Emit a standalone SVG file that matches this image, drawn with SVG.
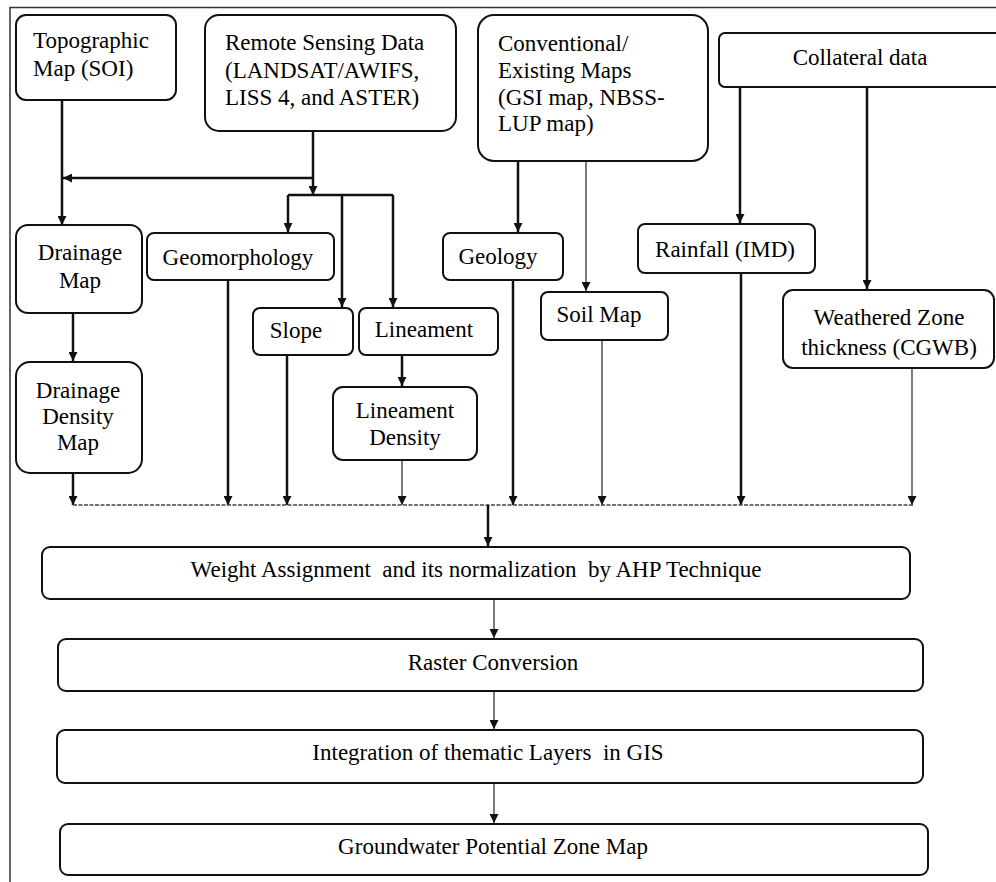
<svg xmlns="http://www.w3.org/2000/svg" width="996" height="882" viewBox="0 0 996 882">
<style>
  .box{fill:#fff;stroke:#111;stroke-width:2}
  .t{font-family:"Liberation Serif","Times New Roman",serif;font-size:23px;fill:#000;white-space:pre}
  .c{text-anchor:middle}
  .thick{fill:none;stroke:#111;stroke-width:2.5}
  .thin{fill:none;stroke:#222;stroke-width:1.2}
  .bus{fill:none;stroke:#444;stroke-width:1.5;stroke-dasharray:4 1.5}
  .frame{fill:none;stroke:#333;stroke-width:1.5}
</style>
<defs>
  <marker id="ah" viewBox="0 0 10 10" refX="10" refY="5" markerWidth="10" markerHeight="9" markerUnits="userSpaceOnUse" orient="auto">
    <path d="M0,0 L10,5 L0,10 z" fill="#111"/>
  </marker>
</defs>
<rect width="996" height="882" fill="#fff"/>
<path class="frame" d="M10,882 V7.5 H996"/>

<g id="connectors">
  <path class="thick" d="M62,100 V225" marker-end="url(#ah)"/>
  <path class="thick" d="M313,131 V195" marker-end="url(#ah)"/>
  <path class="thick" d="M313,178 H63" marker-end="url(#ah)"/>
  <path class="thick" d="M288,195 H393"/>
  <path class="thick" d="M288,195 V232" marker-end="url(#ah)"/>
  <path class="thick" d="M342,195 V307" marker-end="url(#ah)"/>
  <path class="thick" d="M393,195 V307" marker-end="url(#ah)"/>
  <path class="thick" d="M73,313 V361" marker-end="url(#ah)"/>
  <path class="thick" d="M402,355 V386" marker-end="url(#ah)"/>
  <path class="thick" d="M518,161 V232" marker-end="url(#ah)"/>
  <path class="thin" d="M586,161 V291" marker-end="url(#ah)"/>
  <path class="thick" d="M740,87 V223" marker-end="url(#ah)"/>
  <path class="thick" d="M867,87 V289" marker-end="url(#ah)"/>

  <path class="thick" d="M73,473 V505" marker-end="url(#ah)"/>
  <path class="thick" d="M228,280 V505" marker-end="url(#ah)"/>
  <path class="thick" d="M287,355 V505" marker-end="url(#ah)"/>
  <path class="thin" d="M402,460 V505" marker-end="url(#ah)"/>
  <path class="thick" d="M513,280 V505" marker-end="url(#ah)"/>
  <path class="thin" d="M602,340 V505" marker-end="url(#ah)"/>
  <path class="thick" d="M741,273 V505" marker-end="url(#ah)"/>
  <path class="thin" d="M912,368 V505" marker-end="url(#ah)"/>
  <path class="bus" d="M73,505 H913"/>
  <path class="thick" d="M488,505 V546" marker-end="url(#ah)"/>
  <path class="thin" d="M494,599 V638" marker-end="url(#ah)"/>
  <path class="thin" d="M494,691 V729" marker-end="url(#ah)"/>
  <path class="thin" d="M494,783 V823" marker-end="url(#ah)"/>
</g>

<g id="topographic">
  <rect class="box" x="16" y="15" width="160" height="85" rx="10"/>
  <text class="t" x="33" y="48">Topographic</text>
  <text class="t" x="33" y="76">Map (SOI)</text>
</g>
<g id="remote-sensing">
  <rect class="box" x="205" y="15" width="251" height="116" rx="14"/>
  <text class="t" x="225" y="50">Remote Sensing Data</text>
  <text class="t" x="225" y="78">(LANDSAT/AWIFS,</text>
  <text class="t" x="225" y="105">LISS 4, and ASTER)</text>
</g>
<g id="conventional">
  <rect class="box" x="478" y="15" width="230" height="146" rx="16"/>
  <text class="t" x="498" y="51">Conventional/</text>
  <text class="t" x="498" y="78">Existing Maps</text>
  <text class="t" x="498" y="105">(GSI map, NBSS-</text>
  <text class="t" x="498" y="131">LUP map)</text>
</g>
<g id="collateral">
  <rect class="box" x="719" y="33" width="290" height="54" rx="6"/>
  <text class="t c" x="860" y="65">Collateral data</text>
</g>
<g id="drainage-map">
  <rect class="box" x="16" y="225" width="126" height="88" rx="12"/>
  <text class="t c" x="80" y="260">Drainage</text>
  <text class="t c" x="80" y="288">Map</text>
</g>
<g id="geomorphology">
  <rect class="box" x="147" y="233" width="187" height="47" rx="7"/>
  <text class="t c" x="238" y="265">Geomorphology</text>
</g>
<g id="geology">
  <rect class="box" x="443" y="233" width="120" height="47" rx="7"/>
  <text class="t c" x="498" y="264">Geology</text>
</g>
<g id="rainfall">
  <rect class="box" x="638" y="224" width="177" height="49" rx="7"/>
  <text class="t c" x="725" y="257">Rainfall (IMD)</text>
</g>
<g id="soil-map">
  <rect class="box" x="541" y="292" width="127" height="48" rx="7"/>
  <text class="t c" x="599" y="322">Soil Map</text>
</g>
<g id="weathered-zone">
  <rect class="box" x="783" y="290" width="211" height="78" rx="10"/>
  <text class="t c" x="889" y="325">Weathered Zone</text>
  <text class="t c" x="889" y="355">thickness (CGWB)</text>
</g>
<g id="slope">
  <rect class="box" x="253" y="308" width="100" height="47" rx="7"/>
  <text class="t c" x="296" y="338">Slope</text>
</g>
<g id="lineament">
  <rect class="box" x="359" y="308" width="139" height="47" rx="7"/>
  <text class="t c" x="424" y="337">Lineament</text>
</g>
<g id="drainage-density">
  <rect class="box" x="16" y="362" width="126" height="111" rx="14"/>
  <text class="t c" x="78" y="398">Drainage</text>
  <text class="t c" x="78" y="424">Density</text>
  <text class="t c" x="78" y="450">Map</text>
</g>
<g id="lineament-density">
  <rect class="box" x="333" y="387" width="144" height="73" rx="10"/>
  <text class="t c" x="405" y="418">Lineament</text>
  <text class="t c" x="405" y="445">Density</text>
</g>
<g id="weight-assignment">
  <rect class="box" x="42" y="547" width="868" height="52" rx="8"/>
  <text class="t c" x="476" y="577">Weight Assignment  and its normalization  by AHP Technique</text>
</g>
<g id="raster-conversion">
  <rect class="box" x="58" y="639" width="865" height="52" rx="8"/>
  <text class="t c" x="493" y="670">Raster Conversion</text>
</g>
<g id="integration">
  <rect class="box" x="57" y="730" width="866" height="53" rx="8"/>
  <text class="t c" x="488" y="760">Integration of thematic Layers  in GIS</text>
</g>
<g id="groundwater">
  <rect class="box" x="60" y="824" width="868" height="51" rx="8"/>
  <text class="t c" x="493" y="854">Groundwater Potential Zone Map</text>
</g>
</svg>
